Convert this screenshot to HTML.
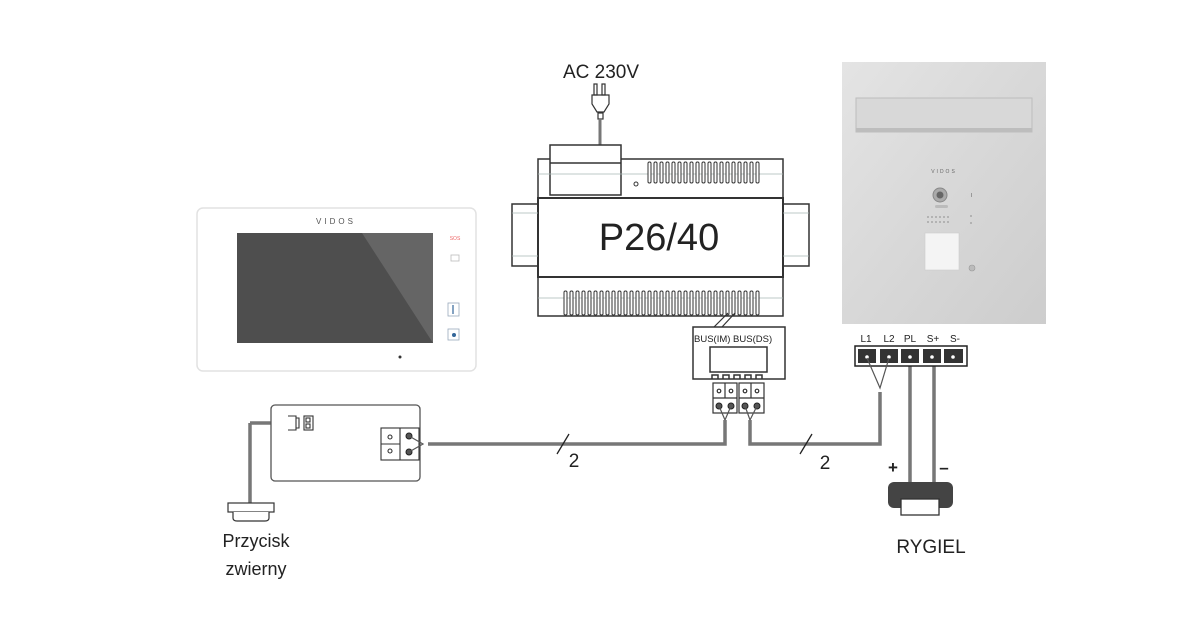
<!DOCTYPE html>
<html><head><meta charset="utf-8"><style>html,body{margin:0;padding:0;background:#fff}svg{display:block}</style></head><body>
<svg width="1200" height="624" viewBox="0 0 1200 624" xmlns="http://www.w3.org/2000/svg" font-family="Liberation Sans, sans-serif">
<defs>
<linearGradient id="steel" x1="0" y1="0" x2="1" y2="1"><stop offset="0" stop-color="#e4e4e4"/><stop offset="0.5" stop-color="#d8d8d8"/><stop offset="1" stop-color="#cdcdcd"/></linearGradient>
<rect id="s1" width="3" height="21" rx="1.4" fill="#fff" stroke="#333" stroke-width="1"/>
<rect id="s2" width="3" height="24" rx="1.4" fill="#fff" stroke="#333" stroke-width="1"/>
</defs>
<!-- Monitor -->
<rect x="197" y="208" width="279" height="163" rx="6" fill="#fff" stroke="#e2e2e2" stroke-width="1.5"/>
<rect x="237" y="233" width="196" height="110" fill="#4e4e4e"/>
<polygon points="362,233 433,233 433,343" fill="#656565"/>
<text x="336" y="224" font-size="8" fill="#555" text-anchor="middle" letter-spacing="3">VIDOS</text>
<text x="455" y="240" font-size="5" fill="#e66" text-anchor="middle">SOS</text>
<rect x="451" y="255" width="8" height="6" fill="none" stroke="#bbb" stroke-width="0.8"/>
<rect x="448" y="303" width="11" height="13" fill="#fff" stroke="#9ab" stroke-width="0.8"/>
<line x1="453" y1="305" x2="453" y2="314" stroke="#369" stroke-width="1.2"/>
<rect x="448" y="329" width="11" height="11" fill="#fff" stroke="#9ab" stroke-width="0.8"/>
<circle cx="454" cy="335" r="2" fill="#369"/>
<circle cx="400" cy="357" r="1.5" fill="#333"/>
<!-- Panel -->
<rect x="842" y="62" width="204" height="262" fill="url(#steel)"/>
<rect x="856" y="98" width="176" height="34" fill="#d8d8d8" stroke="#bdbdbd"/>
<rect x="856" y="128" width="176" height="4" fill="#bdbdbd"/>
<text x="944" y="173" font-size="5" fill="#666" text-anchor="middle" letter-spacing="2">VIDOS</text>
<circle cx="940" cy="195" r="7" fill="#aaa" stroke="#888"/>
<circle cx="940" cy="195" r="3.5" fill="#666"/>
<rect x="935" y="205" width="13" height="3" rx="1.5" fill="#bbb"/>
<g fill="#999"><circle cx="928" cy="217" r="0.9"/><circle cx="932" cy="217" r="0.9"/><circle cx="936" cy="217" r="0.9"/><circle cx="940" cy="217" r="0.9"/><circle cx="944" cy="217" r="0.9"/><circle cx="948" cy="217" r="0.9"/><circle cx="928" cy="222" r="0.9"/><circle cx="932" cy="222" r="0.9"/><circle cx="936" cy="222" r="0.9"/><circle cx="940" cy="222" r="0.9"/><circle cx="944" cy="222" r="0.9"/><circle cx="948" cy="222" r="0.9"/><circle cx="971" cy="216" r="0.9"/><circle cx="971" cy="223" r="0.9"/><rect x="971" y="193" width="1" height="4"/></g>
<rect x="925" y="233" width="34" height="37" fill="#f4f4f4" stroke="#ccc" stroke-width="0.6"/>
<circle cx="972" cy="268" r="3" fill="#bbb" stroke="#999" stroke-width="0.6"/>
<!-- Plug -->
<text x="601" y="78" font-size="19" fill="#222" text-anchor="middle">AC 230V</text>
<g fill="none" stroke="#333" stroke-width="1.2">
<rect x="594" y="84" width="3" height="11"/><rect x="602" y="84" width="3" height="11"/>
<path d="M592 95 H609 V104 L604 112 H597 L592 104 Z"/>
<rect x="598" y="113" width="5" height="6"/>
</g>
<line x1="600" y1="119" x2="600" y2="146" stroke="#777" stroke-width="3"/>
<!-- Power supply -->
<g fill="#fff" stroke="#333" stroke-width="1.5">
<rect x="512" y="204" width="26" height="62"/><rect x="783" y="204" width="26" height="62"/>
<rect x="538" y="159" width="245" height="39"/>
<rect x="538" y="277" width="245" height="39"/>
<rect x="538" y="198" width="245" height="79" stroke-width="2"/>
<rect x="550" y="145" width="71" height="50"/>
<line x1="550" y1="163" x2="621" y2="163"/>
</g>
<g stroke="#a9b7b5" stroke-width="0.8"><line x1="512" y1="213" x2="538" y2="213"/><line x1="512" y1="256" x2="538" y2="256"/><line x1="783" y1="213" x2="809" y2="213"/><line x1="783" y1="256" x2="809" y2="256"/><line x1="538" y1="174" x2="783" y2="174"/><line x1="538" y1="298" x2="783" y2="298"/></g>
<circle cx="636" cy="184" r="2" fill="none" stroke="#333"/>
<g>
<use href="#s1" x="648" y="162"/><use href="#s1" x="654" y="162"/><use href="#s1" x="660" y="162"/><use href="#s1" x="666" y="162"/><use href="#s1" x="672" y="162"/><use href="#s1" x="678" y="162"/><use href="#s1" x="684" y="162"/><use href="#s1" x="690" y="162"/><use href="#s1" x="696" y="162"/><use href="#s1" x="702" y="162"/><use href="#s1" x="708" y="162"/><use href="#s1" x="714" y="162"/><use href="#s1" x="720" y="162"/><use href="#s1" x="726" y="162"/><use href="#s1" x="732" y="162"/><use href="#s1" x="738" y="162"/><use href="#s1" x="744" y="162"/><use href="#s1" x="750" y="162"/><use href="#s1" x="756" y="162"/>
</g>
<g>
<use href="#s2" x="564" y="291"/><use href="#s2" x="570" y="291"/><use href="#s2" x="576" y="291"/><use href="#s2" x="582" y="291"/><use href="#s2" x="588" y="291"/><use href="#s2" x="594" y="291"/><use href="#s2" x="600" y="291"/><use href="#s2" x="606" y="291"/><use href="#s2" x="612" y="291"/><use href="#s2" x="618" y="291"/><use href="#s2" x="624" y="291"/><use href="#s2" x="630" y="291"/><use href="#s2" x="636" y="291"/><use href="#s2" x="642" y="291"/><use href="#s2" x="648" y="291"/><use href="#s2" x="654" y="291"/><use href="#s2" x="660" y="291"/><use href="#s2" x="666" y="291"/><use href="#s2" x="672" y="291"/><use href="#s2" x="678" y="291"/><use href="#s2" x="684" y="291"/><use href="#s2" x="690" y="291"/><use href="#s2" x="696" y="291"/><use href="#s2" x="702" y="291"/><use href="#s2" x="708" y="291"/><use href="#s2" x="714" y="291"/><use href="#s2" x="720" y="291"/><use href="#s2" x="726" y="291"/><use href="#s2" x="732" y="291"/><use href="#s2" x="738" y="291"/><use href="#s2" x="744" y="291"/><use href="#s2" x="750" y="291"/><use href="#s2" x="756" y="291"/>
</g>
<text x="659" y="250" font-size="38" fill="#222" text-anchor="middle">P26/40</text>
<!-- BUS box -->
<path d="M714 327 L728 313" stroke="#333" stroke-width="1.2" fill="none"/>
<path d="M722 327 L735 313" stroke="#333" stroke-width="1.2" fill="none"/>
<rect x="693" y="327" width="92" height="52" fill="#fff" stroke="#333" stroke-width="1.5"/>
<text x="694" y="342" font-size="9.5" fill="#222">BUS(IM) BUS(DS)</text>
<rect x="710" y="347" width="57" height="25" fill="#fff" stroke="#333" stroke-width="1.5"/>
<path d="M712 379 v-4 h6 v4 M723 379 v-4 h6 v4 M734 379 v-4 h6 v4 M745 379 v-4 h6 v4 M756 379 v-4 h6 v4" fill="none" stroke="#333" stroke-width="1.5"/>
<g fill="#fff" stroke="#333" stroke-width="1.2">
<rect x="713" y="383" width="24" height="30"/><rect x="739" y="383" width="25" height="30"/>
<line x1="713" y1="398" x2="737" y2="398"/><line x1="739" y1="398" x2="764" y2="398"/>
<line x1="725" y1="383" x2="725" y2="398"/><line x1="751" y1="383" x2="751" y2="398"/>
<circle cx="719" cy="391" r="1.8"/><circle cx="731" cy="391" r="1.8"/><circle cx="745" cy="391" r="1.8"/><circle cx="757" cy="391" r="1.8"/>
</g>
<g fill="#555" stroke="#222"><circle cx="719" cy="406" r="3"/><circle cx="731" cy="406" r="3"/><circle cx="745" cy="406" r="3"/><circle cx="757" cy="406" r="3"/></g>
<g fill="none" stroke="#555" stroke-width="1.2"><path d="M719 406 L725 420 L731 406 M745 406 L750 420 L757 406"/></g>
<!-- wires -->
<g fill="none" stroke="#777" stroke-width="3.5">
<path d="M725 420 V444 H428"/>
<path d="M750 420 V444 H880 V392"/>
<path d="M910 358 V484 M934 358 V484"/>
<path d="M250 423 H293 M250 423 V505"/>
</g>
<g stroke="#222" stroke-width="1.3"><line x1="557" y1="454" x2="569" y2="434"/><line x1="800" y1="454" x2="812" y2="434"/></g>
<text x="574" y="467" font-size="19" fill="#222" text-anchor="middle">2</text>
<text x="825" y="469" font-size="19" fill="#222" text-anchor="middle">2</text>
<!-- terminal strip -->
<g font-size="10" fill="#222" text-anchor="middle"><text x="866" y="342">L1</text><text x="889" y="342">L2</text><text x="910" y="342">PL</text><text x="933" y="342">S+</text><text x="955" y="342">S-</text></g>
<rect x="855" y="346" width="112" height="20" fill="#fff" stroke="#222" stroke-width="1.5"/>
<g fill="#333"><rect x="858" y="349" width="18" height="14"/><rect x="880" y="349" width="18" height="14"/><rect x="901" y="349" width="18" height="14"/><rect x="923" y="349" width="18" height="14"/><rect x="944" y="349" width="19" height="14"/></g>
<g fill="#fff"><circle cx="867" cy="357" r="1.8"/><circle cx="889" cy="357" r="1.8"/><circle cx="910" cy="357" r="1.8"/><circle cx="932" cy="357" r="1.8"/><circle cx="953" cy="357" r="1.8"/></g>
<path d="M867 358 L880 388 L889 358" fill="none" stroke="#555" stroke-width="1.2"/>
<!-- Rygiel -->
<text x="893" y="473" font-size="17" font-weight="bold" fill="#222" text-anchor="middle">+</text>
<text x="944" y="473" font-size="17" font-weight="bold" fill="#222" text-anchor="middle">–</text>
<rect x="888" y="482" width="65" height="26" rx="6" fill="#444"/>
<rect x="901" y="499" width="38" height="16" fill="#fff" stroke="#333" stroke-width="1.3"/>
<text x="931" y="553" font-size="19" fill="#222" text-anchor="middle">RYGIEL</text>
<!-- relay box -->
<rect x="271" y="405" width="149" height="76" rx="4" fill="#fff" stroke="#555" stroke-width="1.3"/>
<g fill="none" stroke="#333" stroke-width="1.1">
<path d="M288 416 H296 V430 H288 M296 418 H299 V428 H296"/>
<rect x="304" y="416" width="9" height="14"/><rect x="306" y="418" width="4" height="4"/><rect x="306" y="424" width="4" height="4"/>
<rect x="381" y="428" width="38" height="32"/><line x1="400" y1="428" x2="400" y2="460"/><line x1="381" y1="444" x2="400" y2="444"/>
<circle cx="390" cy="437" r="2"/><circle cx="390" cy="451" r="2"/>
</g>
<g fill="#555" stroke="#222"><circle cx="409" cy="436" r="3"/><circle cx="409" cy="452" r="3"/></g>
<path d="M409 436 L423 444 L409 452" fill="none" stroke="#555" stroke-width="1.2"/>
<!-- button -->
<rect x="228" y="503" width="46" height="9" fill="#fff" stroke="#333" stroke-width="1.2"/>
<path d="M233 512 V518 Q233 521 237 521 H265 Q269 521 269 518 V512" fill="#fff" stroke="#333" stroke-width="1.2"/>
<text x="256" y="547" font-size="18" fill="#222" text-anchor="middle">Przycisk</text>
<text x="256" y="575" font-size="18" fill="#222" text-anchor="middle">zwierny</text>
</svg>
</body></html>
